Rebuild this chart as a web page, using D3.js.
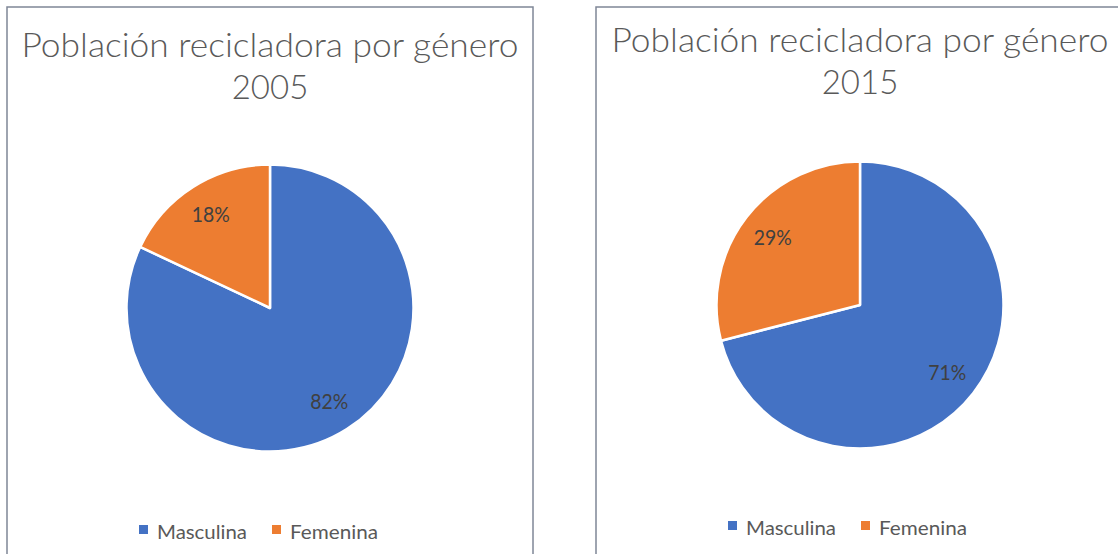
<!DOCTYPE html>
<html>
<head>
<meta charset="utf-8">
<script src="https://cdn.jsdelivr.net/npm/d3@7"></script>
<style>
  html, body { margin: 0; padding: 0; background: #fff; }
  svg { display: block; }
</style>
</head>
<body>
<div id="chart"></div>
<script>
/* Data */
const years = ["2005", "2015"];
const categories = ["Masculina", "Femenina"];
const masculina = [82, 71];
const femenina = [18, 29];
const titleText = "Población recicladora por género";

const colors = d3.scaleOrdinal().domain(categories).range(["#4472C4", "#ED7D31"]);

const W = 1118, H = 554;
const svg = d3.select("#chart").append("svg")
  .attr("width", W).attr("height", H)
  .style("font-family", "Lato, 'Open Sans', sans-serif");

/* Panel layout */
const panels = [
  { x: 7, w: 526, cx: 270, cy: 308, titleY: 57, legendY: 539 },
  { x: 596, w: 560, cx: 860, cy: 305, titleY: 52, legendY: 535 }
];

const pie = d3.pie().sort(null).value(d => d.v);

years.forEach((year, i) => {
  const p = panels[i];
  const g = svg.append("g");

  /* Frame */
  g.append("rect")
    .attr("x", p.x).attr("y", 7)
    .attr("width", p.w).attr("height", H + 10)
    .attr("fill", "none")
    .attr("stroke", "#7f8797")
    .attr("stroke-width", 1.5);

  /* Title */
  g.append("text")
    .attr("x", p.cx).attr("y", p.titleY)
    .attr("text-anchor", "middle")
    .attr("fill", "#595959")
    .style("font-size", "33px")
    .style("font-weight", 300)
    .attr("textLength", 497)
    .attr("lengthAdjust", "spacingAndGlyphs")
    .text(titleText);
  g.append("text")
    .attr("x", p.cx).attr("y", p.titleY + 42)
    .attr("text-anchor", "middle")
    .attr("fill", "#595959")
    .style("font-size", "33px")
    .style("font-weight", 300)
    .text(year);

  /* Pie */
  const data = [
    { k: categories[0], v: masculina[i] },
    { k: categories[1], v: femenina[i] }
  ];
  const r = 143.5;
  const arc = d3.arc().innerRadius(0).outerRadius(r);
  const labelArc = d3.arc().innerRadius(r * 0.77).outerRadius(r * 0.77);

  const pg = g.append("g").attr("transform", `translate(${p.cx},${p.cy})`);
  const arcs = pie(data);
  pg.selectAll("path")
    .data(arcs)
    .join("path")
      .attr("d", arc)
      .attr("fill", d => colors(d.data.k))
      .attr("stroke", "#fff")
      .attr("stroke-width", 2.5)
      .attr("stroke-linejoin", "round");

  pg.selectAll("text")
    .data(arcs)
    .join("text")
      .attr("transform", d => `translate(${labelArc.centroid(d)})`)
      .attr("text-anchor", "middle")
      .attr("dy", "0.36em")
      .attr("fill", "#404040")
      .style("font-size", "21px")
      .attr("textLength", 38)
      .attr("lengthAdjust", "spacingAndGlyphs")
      .text(d => d.data.v + "%");

  /* Legend */
  const lg = g.append("g");
  const legendX = i === 0 ? [139, 272] : [728, 861];
  const legendLen = [90, 88];
  categories.forEach((c, j) => {
    lg.append("rect")
      .attr("x", legendX[j]).attr("y", p.legendY - 14)
      .attr("width", 9).attr("height", 9)
      .attr("fill", colors(c));
    lg.append("text")
      .attr("x", legendX[j] + 18).attr("y", p.legendY)
      .attr("fill", "#595959")
      .style("font-size", "20px")
      .attr("textLength", legendLen[j])
      .attr("lengthAdjust", "spacingAndGlyphs")
      .text(c);
  });
});
</script>
</body>
</html>
